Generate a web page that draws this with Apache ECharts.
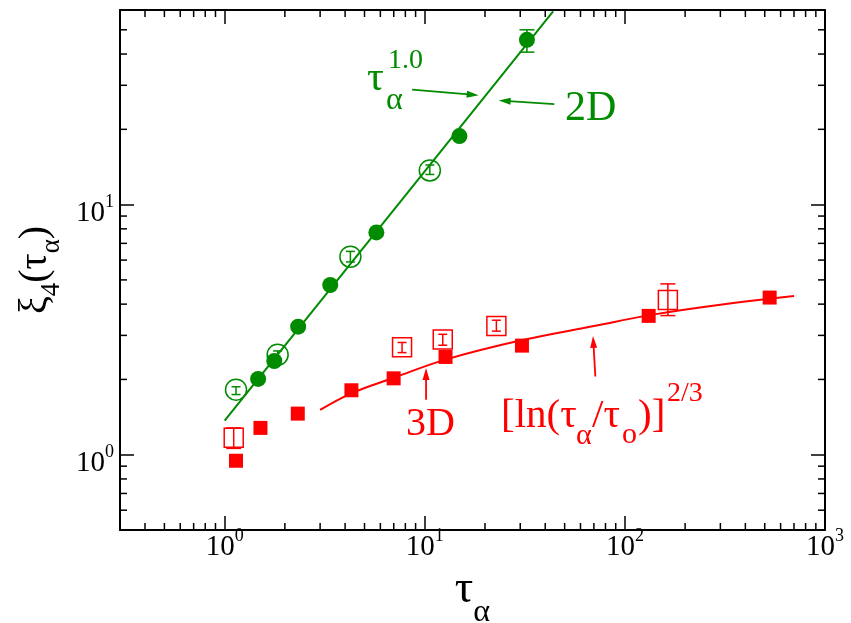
<!DOCTYPE html>
<html>
<head>
<meta charset="utf-8">
<script src="https://cdn.jsdelivr.net/npm/echarts@6/dist/echarts.min.js"></script>
<style>
  html, body { margin: 0; padding: 0; background: #fff; }
  #chart { width: 851px; height: 623px; }
</style>
</head>
<body>
<div id="chart"></div>
<script>
const green = '#008b00';
const red = '#ff0000';
const serif = '"Liberation Serif", "Times New Roman", serif';

// 2D : filled circles
const tau2D = [1.47, 1.77, 2.33, 3.37, 5.73, 14.9, 32.4];
const xi2D = [2.01, 2.37, 3.25, 4.77, 7.74, 18.8, 45.6];
// 2D : open circles (with error bars)
const tau2DOpen = [1.14, 1.84, 4.25, 10.6];
const xi2DOpen = [1.82, 2.51, 6.19, 13.7];
// 2D error bars
const err2DTau = [1.14, 1.84, 4.25, 10.6, 32.4];
const err2DLo = [1.74, 2.42, 5.9, 13.2, 40.7];
const err2DHi = [1.87, 2.6, 6.5, 14.4, 50.0];
// 2D power law line tau^1.0
const line2DTau = [1.0, 43.8];
const line2DXi = [1.37, 59.2];

// 3D : filled squares
const tau3D = [1.14, 1.51, 2.32, 4.30, 6.99, 12.7, 30.6, 131.5, 529];
const xi3D = [0.946, 1.28, 1.46, 1.81, 2.02, 2.46, 2.73, 3.59, 4.25];
// 3D : open squares (with error bars)
const tau3DOpen = [1.11, 7.70, 12.3, 22.8, 164];
const xi3DOpen = [1.17, 2.69, 2.89, 3.27, 4.16];
const err3DLo = [1.06, 2.56, 2.74, 3.12, 3.60];
const err3DHi = [1.28, 2.81, 3.03, 3.45, 4.82];
// 3D [ln(tau/tau_o)]^(2/3) curve
const fit3DTau = [3.0, 4.3, 7.0, 12.7, 30, 70, 140, 300, 700];
const fit3DXi = [1.51, 1.76, 2.03, 2.40, 2.86, 3.27, 3.64, 3.98, 4.31];

// annotation arrows [x0, y0, x1, y1] (head at x1, y1)
const arrows2D = [[8.64, 28.84, 18.6, 27.35], [44.4, 25.2, 23.4, 26.1]];
const arrows3D = [[10.15, 1.658, 10.15, 2.22], [71.2, 2.054, 69.3, 2.985]];

// ticks
const xMinor = [0.4, 0.5, 0.6, 0.7, 0.8, 0.9, 2, 3, 4, 5, 6, 7, 8, 9,
  20, 30, 40, 50, 60, 70, 80, 90, 200, 300, 400, 500, 600, 700, 800, 900];
const yMinor = [0.6, 0.7, 0.8, 0.9, 2, 3, 4, 5, 6, 7, 8, 9, 20, 30, 40, 50];

const zip = (a, b) => a.map((v, i) => [v, b[i]]);

const chart = echarts.init(document.getElementById('chart'));

function powLabel(v) {
  const l = Math.log10(v);
  const e = Math.round(l);
  return Math.abs(l - e) < 1e-6 ? '{b|10}{s|' + e + '}' : '';
}
const tickRich = {
  b: { fontFamily: serif, fontSize: 29, lineHeight: 29, color: '#000', verticalAlign: 'top', padding: [6, 0, 0, 0] },
  s: { fontFamily: serif, fontSize: 18, lineHeight: 18, color: '#000', verticalAlign: 'top' }
};

function logAxis(extra) {
  return Object.assign({
    type: 'log',
    logBase: 10,
    axisLine: { show: true, onZero: false, lineStyle: { color: '#000', width: 2 } },
    axisTick: { show: true, inside: true, length: 14, lineStyle: { color: '#000', width: 1.5 } },
    splitLine: { show: false },
    axisLabel: { show: false }
  }, extra);
}

// minor ticks drawn on all four sides
function minorX(params, api) {
  const cs = params.coordSys;
  const px = api.coord([api.value(0), 1])[0];
  const st = { stroke: '#000', lineWidth: 1.5 };
  return { type: 'group', children: [
    { type: 'line', shape: { x1: px, y1: cs.y + cs.height, x2: px, y2: cs.y + cs.height - 7 }, style: st },
    { type: 'line', shape: { x1: px, y1: cs.y, x2: px, y2: cs.y + 7 }, style: st }
  ] };
}
function minorY(params, api) {
  const cs = params.coordSys;
  const py = api.coord([1, api.value(1)])[1];
  const st = { stroke: '#000', lineWidth: 1.5 };
  return { type: 'group', children: [
    { type: 'line', shape: { x1: cs.x, y1: py, x2: cs.x + 7, y2: py }, style: st },
    { type: 'line', shape: { x1: cs.x + cs.width, y1: py, x2: cs.x + cs.width - 7, y2: py }, style: st }
  ] };
}

function errorBars(xs, lo, hi, color) {
  return {
    type: 'custom',
    silent: true,
    z: 3,
    data: xs.map((x, i) => [x, lo[i], hi[i]]),
    encode: { x: 0, y: [1, 2] },
    renderItem: function (params, api) {
      const p0 = api.coord([api.value(0), api.value(1)]);
      const p1 = api.coord([api.value(0), api.value(2)]);
      const cap = Math.abs(p0[1] - p1[1]) > 16 ? 7.5 : 4.5;
      const st = { stroke: color, lineWidth: 1.5 };
      return { type: 'group', children: [
        { type: 'line', shape: { x1: p0[0], y1: p0[1], x2: p1[0], y2: p1[1] }, style: st },
        { type: 'line', shape: { x1: p0[0] - cap, y1: p0[1], x2: p0[0] + cap, y2: p0[1] }, style: st },
        { type: 'line', shape: { x1: p1[0] - cap, y1: p1[1], x2: p1[0] + cap, y2: p1[1] }, style: st }
      ] };
    }
  };
}

function arrowSeries(data, color) {
  return {
    type: 'custom',
    silent: true,
    data: data,
    encode: { x: [0, 2], y: [1, 3] },
    renderItem: function (params, api) {
      const p0 = api.coord([api.value(0), api.value(1)]);
      const p1 = api.coord([api.value(2), api.value(3)]);
      const dx = p1[0] - p0[0], dy = p1[1] - p0[1];
      const len = Math.hypot(dx, dy);
      const ux = dx / len, uy = dy / len;
      const head = 12, half = 3.5;
      const bx = p1[0] - ux * head, by = p1[1] - uy * head;
      return { type: 'group', children: [
        { type: 'line', shape: { x1: p0[0], y1: p0[1], x2: bx + ux * 2, y2: by + uy * 2 }, style: { stroke: color, lineWidth: 1.8 } },
        { type: 'polygon', shape: { points: [[p1[0], p1[1]], [bx - uy * half, by + ux * half], [bx + uy * half, by - ux * half]] }, style: { fill: color } }
      ] };
    }
  };
}

function label(text, x, baseline, size, color) {
  return {
    type: 'text',
    x: x,
    y: baseline - 0.3375 * size,
    silent: true,
    style: { text: text, fill: color, fontFamily: serif, fontSize: size, verticalAlign: 'middle', align: 'left' }
  };
}

const option = {
  animation: false,
  backgroundColor: '#fff',
  grid: { left: 120, right: 26, top: 10, bottom: 93, containLabel: false, outerBoundsMode: 'none' },
  xAxis: [
    logAxis({
      position: 'bottom', min: 0.3, max: 1000,
      axisLabel: { show: true, margin: -3, formatter: powLabel, rich: tickRich },
      name: '{t|τ}{a|α}',
      nameLocation: 'middle',
      nameGap: 12,
      nameTextStyle: {
        rich: {
          t: { fontFamily: serif, fontSize: 46, lineHeight: 46, color: '#000', verticalAlign: 'top' },
          a: { fontFamily: serif, fontSize: 32, lineHeight: 32, color: '#000', verticalAlign: 'top', padding: [30, 0, 0, 0] }
        }
      }
    }),
    logAxis({ position: 'top', min: 0.3, max: 1000 })
  ],
  yAxis: [
    logAxis({
      position: 'left', min: 0.5, max: 60,
      axisLabel: { show: true, margin: 6, padding: [6, 0, 0, 0], formatter: powLabel, rich: tickRich },
      name: '{m|ξ}{d|4}{m|(τ}{d|α}{m|)}',
      nameLocation: 'middle',
      nameRotate: 90,
      nameGap: 62,
      nameTextStyle: {
        rich: {
          m: { fontFamily: serif, fontSize: 40, lineHeight: 40, color: '#000', verticalAlign: 'top' },
          d: { fontFamily: serif, fontSize: 27, lineHeight: 27, color: '#000', verticalAlign: 'top', padding: [23, 0, 0, 0] }
        }
      }
    }),
    logAxis({ position: 'right', min: 0.5, max: 60 })
  ],
  graphic: [
    label('τ', 367, 93, 42, green),
    label('α', 386, 111.5, 32, green),
    label('1.0', 388, 70, 28, green),
    label('2D', 565, 123, 42, green),
    label('3D', 406, 438, 40, red),
    label('[ln(τ', 501, 430, 41, red),
    label('α', 576, 446.5, 30, red),
    label('/τ', 592, 430, 41, red),
    label('o', 622, 445, 30, red),
    label(')]', 638, 430, 41, red),
    label('2/3', 667, 403, 28, red)
  ],
  series: [
    { type: 'custom', silent: true, data: xMinor.map(v => [v, 1]), renderItem: minorX },
    { type: 'custom', silent: true, data: yMinor.map(v => [1, v]), renderItem: minorY },
    {
      name: '2D fit', type: 'line', data: zip(line2DTau, line2DXi),
      showSymbol: false, lineStyle: { color: green, width: 2 }, silent: true
    },
    {
      name: '3D fit', type: 'line', data: zip(fit3DTau, fit3DXi), smooth: 0.4,
      showSymbol: false, lineStyle: { color: red, width: 2 }, silent: true
    },
    {
      name: '2D open', type: 'scatter', data: zip(tau2DOpen, xi2DOpen),
      symbol: 'circle', symbolSize: 21, z: 3,
      itemStyle: { color: 'rgba(0,0,0,0)', borderColor: green, borderWidth: 1.5, opacity: 1 }
    },
    errorBars(err2DTau, err2DLo, err2DHi, green),
    {
      name: '2D', type: 'scatter', data: zip(tau2D, xi2D),
      symbol: 'circle', symbolSize: 16, z: 4,
      itemStyle: { color: green, opacity: 1 }
    },
    {
      name: '3D open', type: 'scatter', data: zip(tau3DOpen, xi3DOpen),
      symbol: 'rect', symbolSize: 19, z: 3,
      itemStyle: { color: 'rgba(0,0,0,0)', borderColor: red, borderWidth: 1.5, opacity: 1 }
    },
    errorBars(tau3DOpen, err3DLo, err3DHi, red),
    {
      name: '3D', type: 'scatter', data: zip(tau3D, xi3D),
      symbol: 'rect', symbolSize: 14, z: 4,
      itemStyle: { color: red, opacity: 1 }
    },
    arrowSeries(arrows2D, green),
    arrowSeries(arrows3D, red)
  ]
};

chart.setOption(option);
</script>
</body>
</html>
